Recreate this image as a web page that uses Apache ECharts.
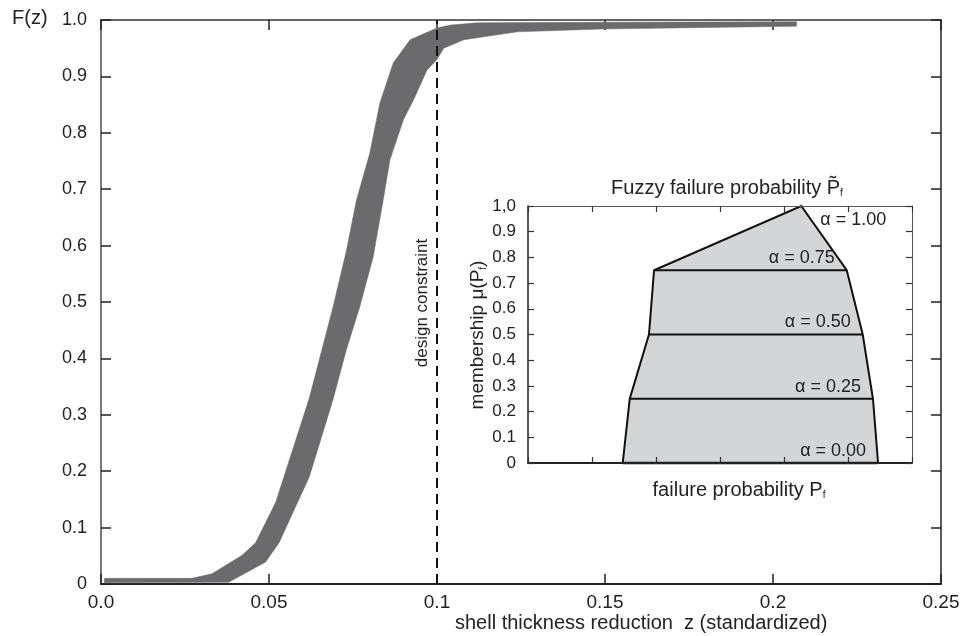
<!DOCTYPE html>
<html>
<head>
<meta charset="utf-8">
<script src="https://cdn.jsdelivr.net/npm/echarts@6/dist/echarts.min.js"></script>
<style>
html,body{margin:0;padding:0;background:#fff;}
#c{width:965px;height:636px;}
</style>
</head>
<body>
<div id="c"></div>
<script>
// ---- main chart data: band of F(z) ----
var upperZ = [0.001, 0.027, 0.033, 0.042, 0.046, 0.052, 0.062, 0.069, 0.073, 0.076, 0.080, 0.083, 0.087, 0.092, 0.100, 0.104, 0.112, 0.150, 0.207];
var upperF = [0.010, 0.010, 0.018, 0.051, 0.073, 0.145, 0.330, 0.490, 0.590, 0.680, 0.764, 0.853, 0.924, 0.965, 0.986, 0.991, 0.995, 0.996, 0.997];
var lowerZ = [0.001, 0.038, 0.049, 0.053, 0.062, 0.069, 0.073, 0.077, 0.081, 0.084, 0.086, 0.090, 0.093, 0.097, 0.100, 0.102, 0.108, 0.124, 0.149, 0.207];
var lowerF = [0.002, 0.003, 0.039, 0.073, 0.190, 0.326, 0.415, 0.491, 0.580, 0.681, 0.752, 0.823, 0.858, 0.911, 0.930, 0.950, 0.965, 0.979, 0.984, 0.989];
var designConstraint = 0.1;
var xTicks = ['0.0', '0.05', '0.1', '0.15', '0.2', '0.25'];

// ---- inset data: fuzzy failure probability ----
var alphaLevels = [0, 0.25, 0.5, 0.75];
var alphaLeft = [1.48, 1.59, 1.89, 1.97];
var alphaRight = [5.47, 5.39, 5.23, 4.98];
var peakP = 4.27;
var peakAlpha = 1.0;
var alphaLabels = ['α = 0.00', 'α = 0.25', 'α = 0.50', 'α = 0.75'];
var peakLabel = 'α = 1.00';

var FONT = 'Liberation Sans, Arial, sans-serif';
var TXT = '#222';

var chart = echarts.init(document.getElementById('c'));

function bandRender(params, api) {
  var pts = [];
  for (var i = 0; i < upperZ.length; i++) pts.push(api.coord([upperZ[i], upperF[i]]));
  for (var j = lowerZ.length - 1; j >= 0; j--) pts.push(api.coord([lowerZ[j], lowerF[j]]));
  return {
    type: 'polygon',
    shape: { points: pts },
    style: { fill: '#6b6b6d', stroke: '#6b6b6d', lineWidth: 0.5 }
  };
}

function insetRender(params, api) {
  var pts = [];
  for (var i = 0; i < alphaLevels.length; i++) pts.push(api.coord([alphaLeft[i], alphaLevels[i]]));
  var peak = api.coord([peakP, peakAlpha]);
  pts.push(peak);
  for (var j = alphaLevels.length - 1; j >= 0; j--) pts.push(api.coord([alphaRight[j], alphaLevels[j]]));
  var children = [{
    type: 'polygon',
    shape: { points: pts },
    style: { fill: '#d4d5d7', stroke: '#111', lineWidth: 2, lineJoin: 'miter' }
  }];
  for (var k = 0; k < alphaLevels.length; k++) {
    var a = api.coord([alphaLeft[k], alphaLevels[k]]);
    var b = api.coord([alphaRight[k], alphaLevels[k]]);
    children.push({
      type: 'line',
      shape: { x1: a[0], y1: a[1], x2: b[0], y2: b[1] },
      style: { stroke: '#111', lineWidth: k === 0 ? 2.5 : 2 }
    });
    children.push({
      type: 'text',
      x: b[0] - 12, y: b[1] - 3,
      style: { text: alphaLabels[k], fill: TXT, font: '18px ' + FONT, align: 'right', verticalAlign: 'bottom' }
    });
  }
  children.push({
    type: 'text',
    x: peak[0] + 19, y: peak[1] + 14,
    style: { text: peakLabel, fill: TXT, font: '18px ' + FONT, align: 'left', verticalAlign: 'middle' }
  });
  return { type: 'group', children: children };
}

function frameAxis(extra) {
  var base = { type: 'value', splitLine: { show: false } };
  for (var k in extra) base[k] = extra[k];
  return base;
}
function ticks(len, color, w) {
  return { show: true, inside: true, length: len, lineStyle: { color: color, width: w } };
}

var option = {
  backgroundColor: '#fff',
  animation: false,
  textStyle: { fontFamily: FONT },
  grid: [
    { left: 101, top: 20, width: 840, height: 564, show: false },
    { left: 528, top: 206, width: 384, height: 257, show: true, backgroundColor: '#fff', borderWidth: 0, z: 1 }
  ],
  xAxis: [
    frameAxis({ gridIndex: 0, min: 0, max: 0.25, interval: 0.05, position: 'bottom',
      axisLine: { show: true, onZero: false, lineStyle: { color: '#222', width: 2 } },
      axisTick: ticks(10, '#222', 1.5),
      axisLabel: { fontSize: 19, color: TXT, margin: 9, fontFamily: FONT,
        formatter: function (v) { return xTicks[Math.round(v / 0.05)]; } } }),
    frameAxis({ gridIndex: 0, min: 0, max: 0.25, interval: 0.05, position: 'top',
      axisLine: { show: true, onZero: false, lineStyle: { color: '#333', width: 1.5 } },
      axisTick: ticks(10, '#222', 1.5),
      axisLabel: { show: false } }),
    frameAxis({ gridIndex: 1, min: 0, max: 6, interval: 1, position: 'bottom', z: 7,
      axisLine: { show: true, onZero: false, lineStyle: { color: '#222', width: 2 } },
      axisTick: ticks(6, '#333', 1.2),
      axisLabel: { show: false } }),
    frameAxis({ gridIndex: 1, min: 0, max: 6, interval: 1, position: 'top', z: 7,
      axisLine: { show: true, onZero: false, lineStyle: { color: '#555', width: 1 } },
      axisTick: ticks(6, '#333', 1.2),
      axisLabel: { show: false } })
  ],
  yAxis: [
    frameAxis({ gridIndex: 0, min: 0, max: 1, interval: 0.1, position: 'left',
      axisLine: { show: true, onZero: false, lineStyle: { color: '#777', width: 2 } },
      axisTick: ticks(10, '#222', 1.5),
      axisLabel: { fontSize: 18, color: TXT, margin: 14, fontFamily: FONT,
        formatter: function (v) { return v === 0 ? '0' : v.toFixed(1); } } }),
    frameAxis({ gridIndex: 0, min: 0, max: 1, interval: 0.1, position: 'right',
      axisLine: { show: true, onZero: false, lineStyle: { color: '#222', width: 1.5 } },
      axisTick: ticks(10, '#222', 1.5),
      axisLabel: { show: false } }),
    frameAxis({ gridIndex: 1, min: 0, max: 1, interval: 0.1, position: 'left', z: 7,
      axisLine: { show: true, onZero: false, lineStyle: { color: '#222', width: 1.5 } },
      axisTick: ticks(6, '#333', 1.2),
      axisLabel: { fontSize: 17, color: TXT, margin: 12, fontFamily: FONT,
        formatter: function (v) { return v === 0 ? '0' : (v === 1 ? '1,0' : v.toFixed(1)); } } }),
    frameAxis({ gridIndex: 1, min: 0, max: 1, interval: 0.1, position: 'right', z: 7,
      axisLine: { show: true, onZero: false, lineStyle: { color: '#555', width: 1 } },
      axisTick: ticks(6, '#333', 1.2),
      axisLabel: { show: false } })
  ],
  series: [
    { type: 'custom', xAxisIndex: 0, yAxisIndex: 0, renderItem: bandRender, data: [[upperZ[0], upperF[0]]], silent: true, clip: false, z: 2 },
    { type: 'line', xAxisIndex: 0, yAxisIndex: 0, data: [], symbol: 'none', silent: true, z: 3,
      markLine: { silent: true, symbol: 'none', label: { show: false },
        lineStyle: { color: '#111', type: [10, 6], width: 2 },
        data: [{ xAxis: designConstraint }] } },
    { type: 'custom', xAxisIndex: 2, yAxisIndex: 2, renderItem: insetRender, data: [[peakP, peakAlpha]], silent: true, clip: false, z: 6 }
  ],
  graphic: [
    { type: 'text', left: 12, top: 8, z: 10, style: { text: 'F(z)', font: '20px ' + FONT, fill: TXT } },
    { type: 'text', left: 455, top: 613, z: 10, style: { text: 'shell thickness reduction  z (standardized)', font: '20px ' + FONT, fill: TXT } },
    { type: 'text', x: 422, y: 303, rotation: Math.PI / 2, z: 10,
      style: { text: 'design constraint', font: '17px ' + FONT, fill: TXT, align: 'center', verticalAlign: 'middle' } },
    { type: 'text', x: 478, y: 335, rotation: Math.PI / 2, z: 10,
      style: { text: 'membership μ(P{s|f})', font: '19px ' + FONT, fill: TXT, align: 'center', verticalAlign: 'middle',
        rich: { s: { fontSize: 10, fontFamily: FONT, verticalAlign: 'bottom', padding: [10, 0, 0, 0] } } } },
    { type: 'text', x: 727, y: 188, z: 10,
      style: { text: 'Fuzzy failure probability P\u0303{s|f}', font: '20px ' + FONT, fill: TXT, align: 'center', verticalAlign: 'middle',
        rich: { s: { fontSize: 10, fontFamily: FONT, verticalAlign: 'bottom', padding: [10, 0, 0, 0] } } } },
    { type: 'text', x: 739, y: 490, z: 10,
      style: { text: 'failure probability P{s|f}', font: '20px ' + FONT, fill: TXT, align: 'center', verticalAlign: 'middle',
        rich: { s: { fontSize: 10, fontFamily: FONT, verticalAlign: 'bottom', padding: [10, 0, 0, 0] } } } }
  ]
};
chart.setOption(option);
</script>
</body>
</html>
